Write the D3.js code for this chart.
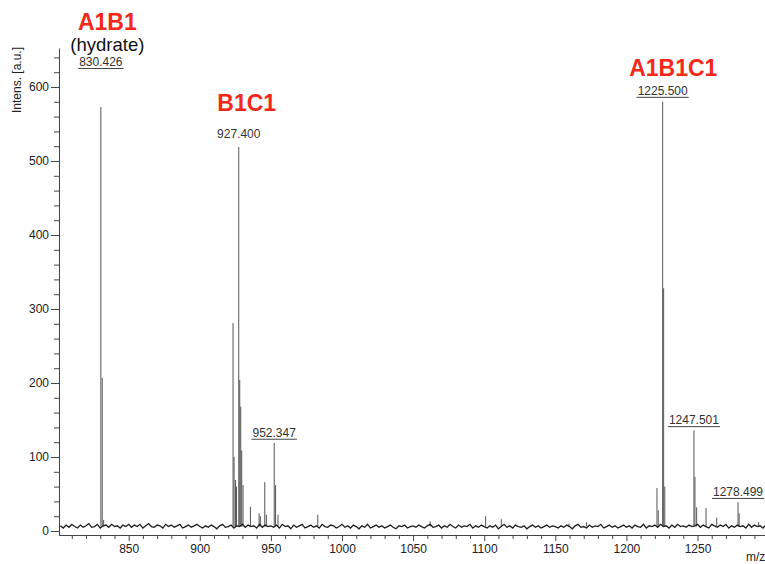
<!DOCTYPE html>
<html>
<head>
<meta charset="utf-8">
<script src="https://cdn.jsdelivr.net/npm/d3@7"></script>
<style>
  body { margin: 0; background: #fff; }
  svg { font-family: "Liberation Sans", Arial, sans-serif; }
  .axis text { font-size: 12px; fill: #222; }
  .axis path, .axis line { stroke: #444; }
</style>
</head>
<body>
<div id="chart"></div>
<script>

// peaks: m/z and intensity [a.u.]
var peakMz = [830.43, 831.4, 832.4,
    923.4, 924.1, 925.1, 925.8, 927.4, 928.1, 928.8, 929.5, 930.4, 935.6, 941.7, 942.6, 945.7, 946.8,
    952.35, 953.3, 955.0, 983.0, 1062.0, 1101.0, 1112.0, 1159.6, 1172.0,
    1221.5, 1222.4, 1225.5, 1226.2, 1227.0, 1247.5, 1248.2, 1249.4, 1256.0, 1263.5, 1278.5, 1279.3, 1293.0];
var peakInt = [573, 207, 15,
    281, 100, 69, 60, 519, 204, 168, 109, 62, 33, 24, 20, 66, 22,
    119, 62, 22, 22, 13, 20, 16, 10, 12,
    58, 28, 580, 328, 60, 136, 73, 32, 31, 18, 39, 24, 12];

// baseline noise, one value every 2 m/z starting at 802
var noiseStart = 802, noiseStep = 2;
var noiseVals = [
    7,4,8,5,9,6,4,8,5,7,10,5,6,9,4,7,8,5,9,6,7,4,8,6,9,
    5,8,6,9,4,7,10,6,5,8,7,4,9,6,8,5,7,9,4,6,8,5,7,9,6,
    4,7,5,8,6,3,7,9,5,6,8,4,7,6,9,5,8,6,7,4,9,5,8,6,7,
    5,8,4,9,6,7,3,8,5,7,9,4,6,8,5,7,4,9,6,5,8,7,4,6,9,
    5,7,4,8,6,3,7,5,9,4,6,8,5,7,4,6,8,5,3,7,6,8,4,6,7,
    5,8,6,4,7,9,5,6,8,4,7,5,9,6,4,8,5,7,6,9,4,7,5,8,6,
    4,7,5,8,3,6,9,5,7,4,8,6,5,7,3,6,8,5,7,4,6,8,5,7,6,
    4,7,5,8,6,3,7,9,5,6,4,8,5,7,6,9,4,6,8,5,7,4,6,8,5,
    7,4,8,6,5,9,4,7,6,8,5,9,6,7,4,8,5,9,6,7,5,8,6,7,9,
    5,8,6,4,9,7,5,8,6,9,4,7,5,8,6,7,4,9,5,8,6,7,4,8,6
];

// peak annotations
var labelMz = [830.43, 927.4, 952.35, 1225.5, 1247.5, 1278.5];
var labelText = ["830.426", "927.400", "952.347", "1225.500", "1247.501", "1278.499"];
var labelUnder = [true, false, true, true, true, true];
var labelLevel = [623, 526, 122, 584, 139, 42];

// species names
var speciesMz = [835, 933, 1233];
var speciesText = ["A1B1", "B1C1", "A1B1C1"];
var speciesLevel = [677, 567, 615];

var xMajor = [850, 900, 950, 1000, 1050, 1100, 1150, 1200, 1250];
var yMajor = [0, 100, 200, 300, 400, 500, 600];

var divWidth = 765, divHeight = 564;
var svg = d3.select("#chart").append("svg")
    .attr("width", divWidth).attr("height", divHeight);

var plotLeft = 59, plotRight = 768.6, plotTop = 48, plotBottom = 535;

var x = d3.scaleLinear().domain([801, 1300]).range([plotLeft, plotRight]);
var y = d3.scaleLinear().domain([-5.4, 652.7]).range([plotBottom, plotTop]);

// minor ticks
var xMinor = d3.range(810, 1300, 10).filter(function(v) { return v % 50 != 0; });
var yMinor = d3.range(20, 652, 20).filter(function(v) { return v % 100 != 0; });

svg.append("g")
    .attr("class", "axis")
    .attr("transform", "translate(0," + plotBottom + ")")
    .call(d3.axisBottom(x).tickValues(xMinor).tickSize(4).tickSizeOuter(0).tickFormat(""))
    .select(".domain").attr("d", "M" + plotLeft + ",0.5H" + divWidth);

svg.append("g")
    .attr("class", "axis")
    .attr("transform", "translate(0," + plotBottom + ")")
    .call(d3.axisBottom(x).tickValues(xMajor).tickSize(6).tickPadding(3).tickSizeOuter(0).tickFormat(d3.format("d")))
    .select(".domain").remove();

svg.append("g")
    .attr("class", "axis")
    .attr("transform", "translate(" + plotLeft + ",0)")
    .call(d3.axisLeft(y).tickValues(yMinor).tickSize(5).tickSizeOuter(0).tickFormat(""));

svg.append("g")
    .attr("class", "axis")
    .attr("transform", "translate(" + plotLeft + ",0)")
    .call(d3.axisLeft(y).tickValues(yMajor).tickSize(8).tickPadding(2).tickSizeOuter(0).tickFormat(d3.format("d")))
    .select(".domain").remove();

// peaks as thin sticks standing on the baseline
svg.append("g").selectAll("line")
    .data(peakMz)
    .join("line")
    .attr("x1", function(d) { return x(d); })
    .attr("x2", function(d) { return x(d); })
    .attr("y1", y(6))
    .attr("y2", function(d, i) { return y(peakInt[i]); })
    .attr("stroke", "#555")
    .attr("stroke-width", 1);

// noisy baseline
var noise = noiseVals.map(function(v, i) { return [noiseStart + i * noiseStep, v]; });
var line = d3.line()
    .x(function(d) { return x(d[0]); })
    .y(function(d) { return y(d[1]); });

svg.append("path")
    .datum(noise)
    .attr("fill", "none")
    .attr("stroke", "#1e1e1e")
    .attr("stroke-width", 1.3)
    .attr("d", line);

// peak labels
labelMz.forEach(function(m, i) {
    var ly = y(labelLevel[i]);
    var t = svg.append("text")
        .attr("x", x(m)).attr("y", ly - 4)
        .attr("text-anchor", "middle")
        .attr("font-size", 12)
        .attr("fill", "#333")
        .text(labelText[i]);
    var w = t.node().getComputedTextLength();
    if (labelUnder[i]) {
        svg.append("line")
            .attr("x1", x(m) - w / 2 - 1).attr("x2", x(m) + w / 2 + 1)
            .attr("y1", ly - 1.5).attr("y2", ly - 1.5)
            .attr("stroke", "#444").attr("stroke-width", 1);
    }
});

// species names in red
speciesMz.forEach(function(m, i) {
    svg.append("text")
        .attr("x", x(m)).attr("y", y(speciesLevel[i]))
        .attr("text-anchor", "middle")
        .attr("font-size", 23)
        .attr("font-weight", "bold")
        .attr("fill", "#f5281a")
        .text(speciesText[i]);
});

svg.append("text")
    .attr("x", x(835)).attr("y", 51)
    .attr("text-anchor", "middle")
    .attr("font-size", 18.5)
    .attr("fill", "#111")
    .text("(hydrate)");

// axis titles
svg.append("text")
    .attr("transform", "translate(21,80) rotate(-90)")
    .attr("text-anchor", "middle")
    .attr("font-size", 12)
    .attr("fill", "#222")
    .text("Intens. [a.u.]");

svg.append("text")
    .attr("x", 746).attr("y", 561)
    .attr("font-size", 12)
    .attr("fill", "#222")
    .text("m/z");

</script>
</body>
</html>
